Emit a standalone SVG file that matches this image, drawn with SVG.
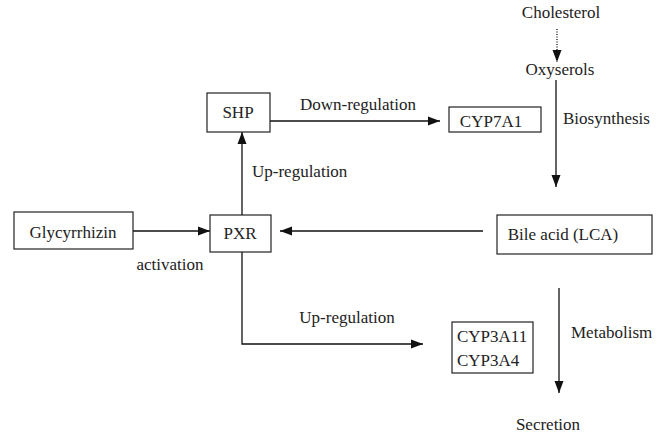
<svg xmlns="http://www.w3.org/2000/svg" width="662" height="434" viewBox="0 0 662 434" font-family="Liberation Serif, serif">
<style>
text{font-family:'Liberation Serif', 'DejaVu Serif', serif;font-size:17px;fill:#222}
.box{fill:#fff;stroke:#222;stroke-width:1.2}
.ln{fill:none;stroke:#111;stroke-width:1.3}
.m{text-anchor:middle}
</style>
<defs>
<marker id="ah" markerUnits="userSpaceOnUse" markerWidth="12" markerHeight="10" refX="12" refY="5" orient="auto">
<path d="M0,0.5 L12,5 L0,9.5 Z" fill="#111"/>
</marker>
</defs>
<rect width="662" height="434" fill="#fff"/>
<g id="connectors">
<line class="ln" x1="557" y1="29" x2="557" y2="62" stroke-dasharray="1,1.5" marker-end="url(#ah)"/>
<line class="ln" x1="556" y1="80" x2="556" y2="187" marker-end="url(#ah)"/>
<line class="ln" x1="483" y1="231" x2="280" y2="231" marker-end="url(#ah)"/>
<line class="ln" x1="133" y1="231" x2="210" y2="231" marker-end="url(#ah)"/>
<line class="ln" x1="242" y1="215" x2="242" y2="132" marker-end="url(#ah)"/>
<line class="ln" x1="270" y1="121" x2="440" y2="121" marker-end="url(#ah)"/>
<path class="ln" d="M242 252 V344 H423" marker-end="url(#ah)"/>
<line class="ln" x1="559" y1="288" x2="559" y2="393" marker-end="url(#ah)"/>
<text x="358" y="110" class="m">Down-regulation</text>
<text x="252" y="177">Up-regulation</text>
<text x="170" y="270" class="m">activation</text>
<text x="347" y="323" class="m">Up-regulation</text>
<text x="563" y="124">Biosynthesis</text>
<text x="571" y="338">Metabolism</text>
</g>
<g id="cholesterol"><text x="561" y="18" class="m">Cholesterol</text></g>
<g id="oxyserols"><text x="560" y="75" class="m">Oxyserols</text></g>
<g id="shp"><rect class="box" x="207" y="93" width="63" height="39"/><text x="238" y="118" class="m">SHP</text></g>
<g id="cyp7a1"><rect class="box" x="449" y="107" width="92" height="25"/><text x="491" y="127" class="m">CYP7A1</text></g>
<g id="glycyrrhizin"><rect class="box" x="14" y="212" width="119" height="37"/><text x="73" y="238" class="m">Glycyrrhizin</text></g>
<g id="pxr"><rect class="box" x="210" y="215" width="61" height="37"/><text x="240" y="239" class="m">PXR</text></g>
<g id="bileacid"><rect class="box" x="497" y="215" width="155" height="39"/><text x="563" y="240" class="m">Bile acid (LCA)</text></g>
<g id="cyp3a"><rect class="box" x="452" y="322" width="81" height="51"/><text x="457" y="342">CYP3A11</text><text x="457" y="366">CYP3A4</text></g>
<g id="secretion"><text x="548" y="430" class="m">Secretion</text></g>
</svg>
